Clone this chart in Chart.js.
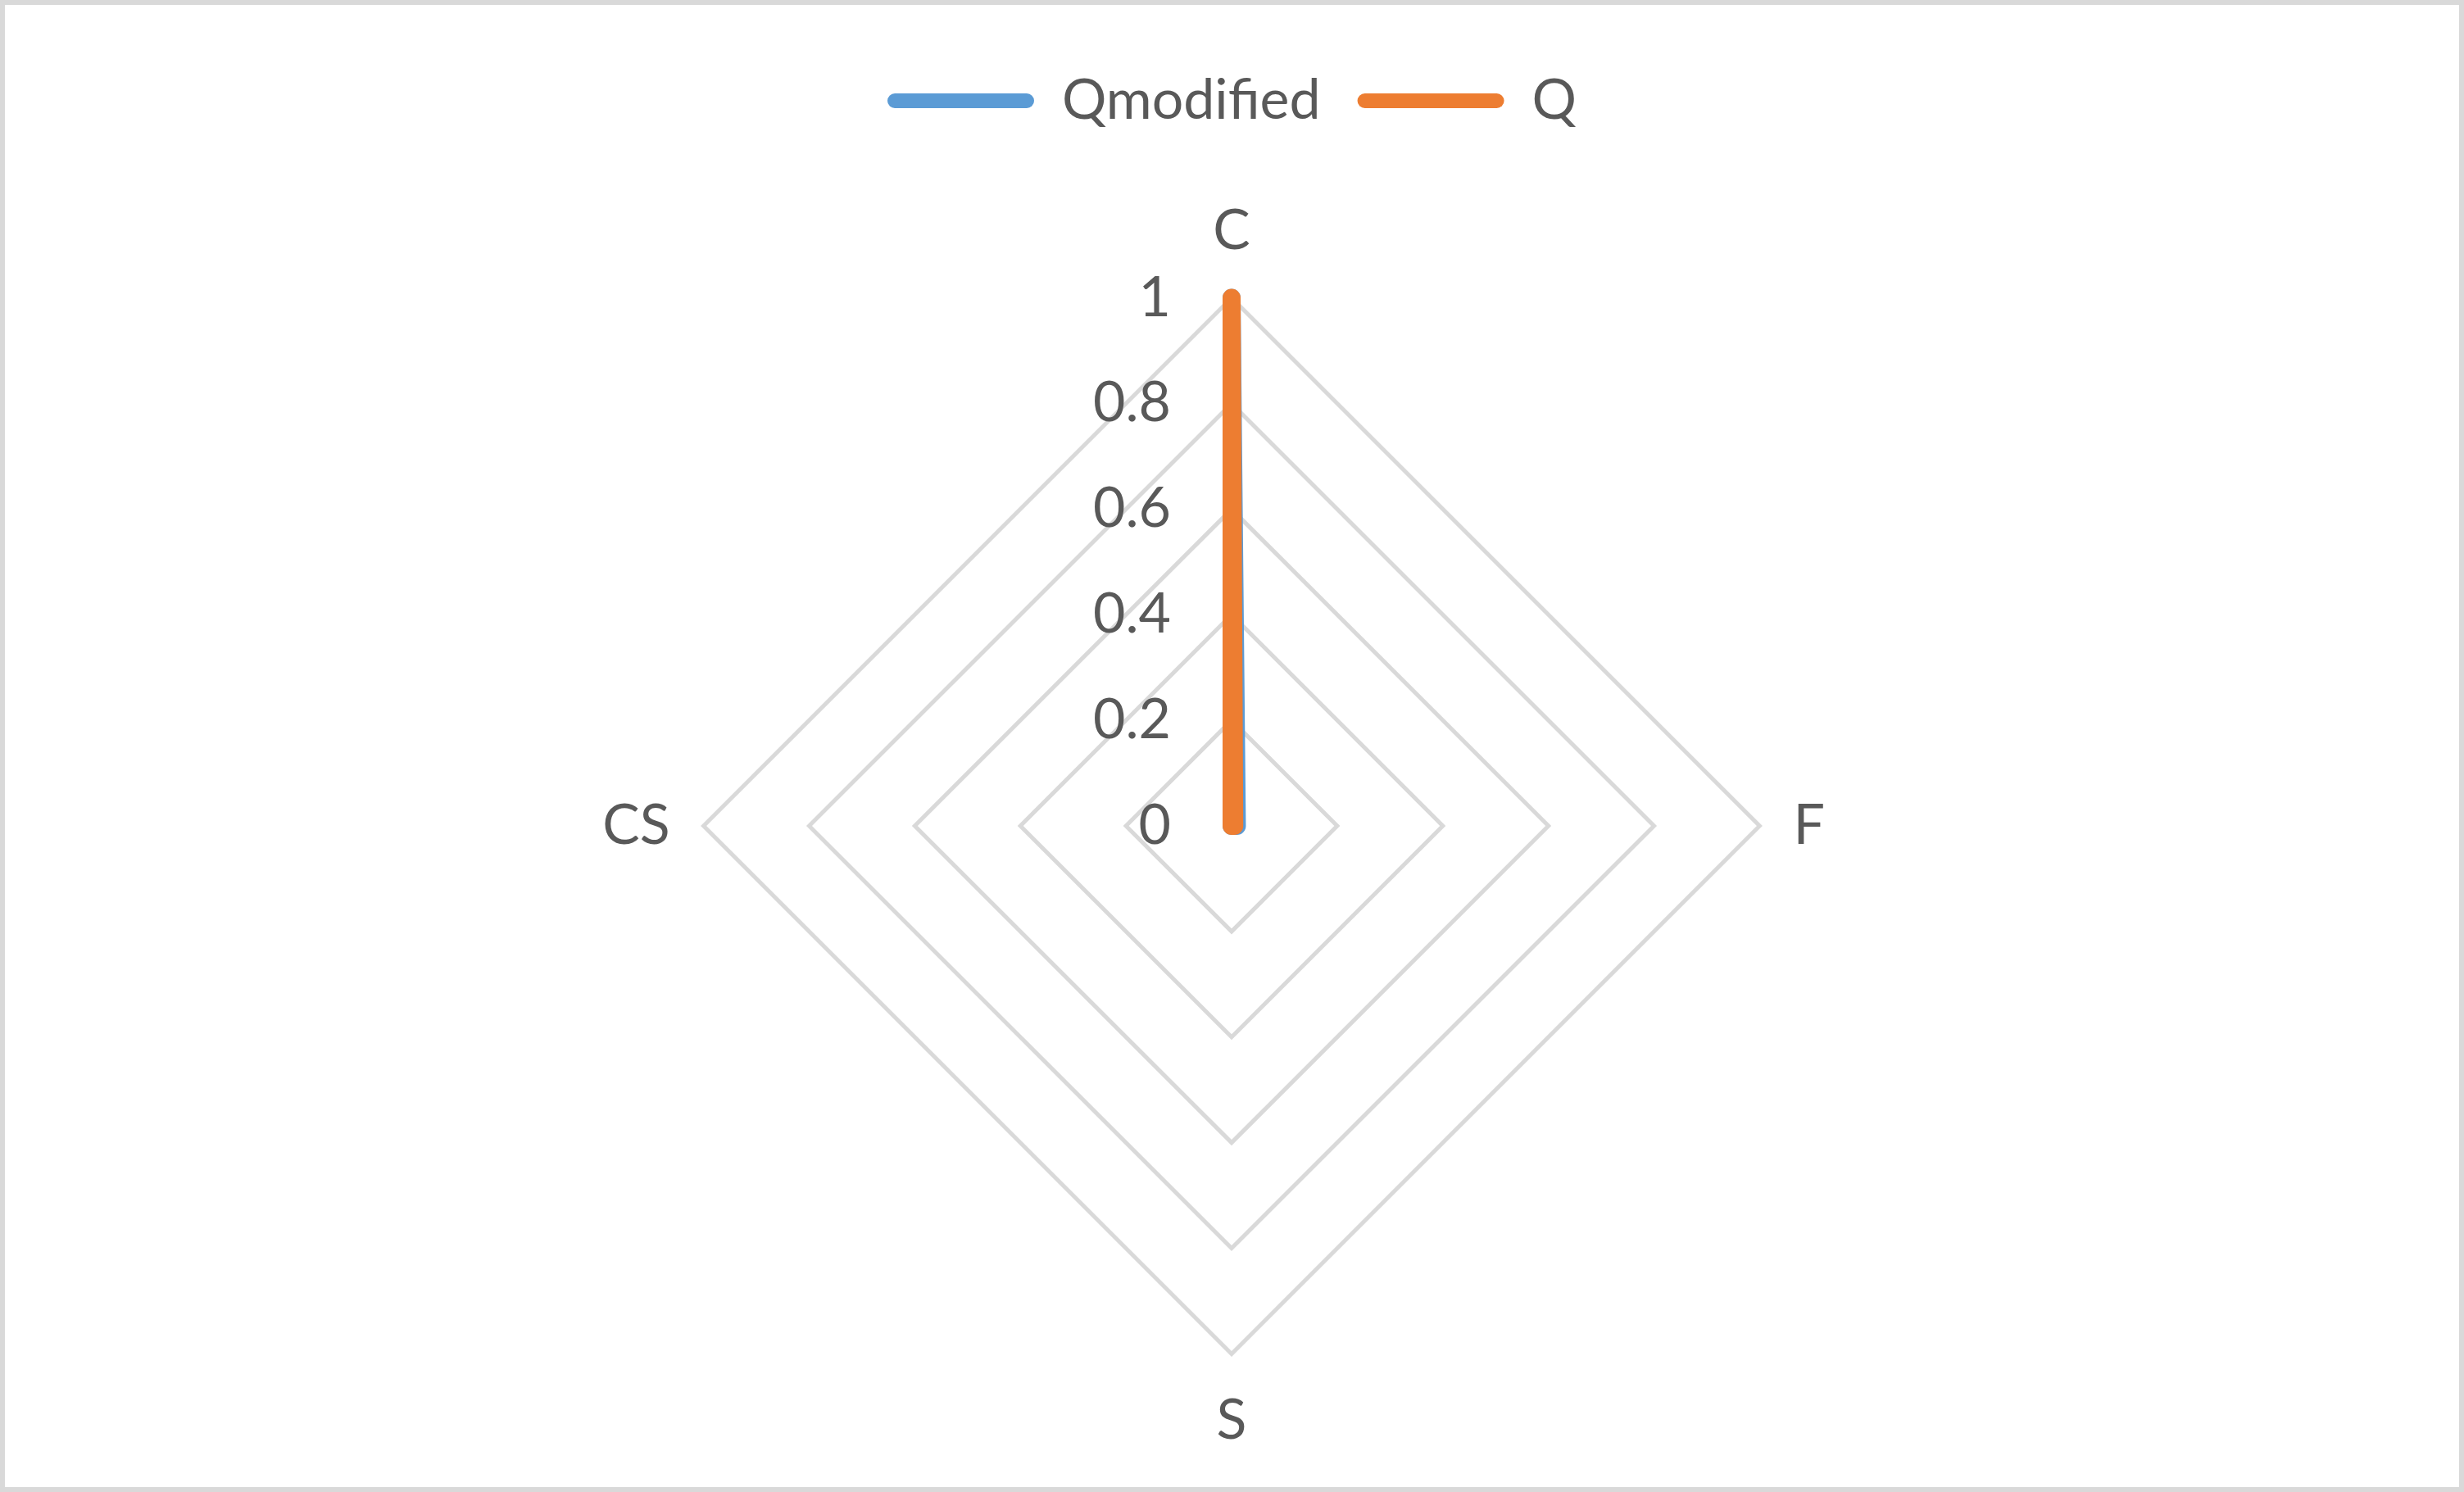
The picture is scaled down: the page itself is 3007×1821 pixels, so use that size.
<!DOCTYPE html>
<html>
<head>
<meta charset="utf-8">
<script src="https://cdn.jsdelivr.net/npm/chart.js@4.4.0/dist/chart.umd.min.js"></script>
<style>
  html, body { margin: 0; padding: 0; background: #fff; }
  #wrap {
    position: absolute; left: 0; top: 0;
    width: 3007px; height: 1821px;
    box-sizing: border-box;
    border: 6px solid #d9d9d9;
    background: #fff;
  }
</style>
</head>
<body>
<div id="wrap"><canvas id="radarChart"></canvas></div>
<script>
// chart data
var categories = ['C', 'F', 'S', 'CS'];
var qModified = [1, 0.01, 0, 0];
var q = [1, 0.005, 0, 0];
var tickValues = [0, 0.2, 0.4, 0.6, 0.8, 1];
var tickLabels = ['0', '0.2', '0.4', '0.6', '0.8', '1'];

var textColor = '#595959';
var fontFamily = 'Lato';

// push the plot down under the legend
const legendGap = {
  id: 'legendGap',
  beforeInit(chart) {
    const oldFit = chart.legend.fit;
    chart.legend.fit = function () {
      oldFit.bind(chart.legend)();
      this.height += 74;
    };
  }
};

// value labels sit left of the vertical axis, like Excel
const sideTicks = {
  id: 'sideTicks',
  afterDatasetsDraw(chart) {
    const scale = chart.scales.r;
    const ctx = chart.ctx;
    ctx.save();
    ctx.font = '68px ' + fontFamily;
    ctx.fillStyle = textColor;
    ctx.textAlign = 'right';
    ctx.textBaseline = 'middle';
    for (let i = 0; i < tickValues.length; i++) {
      let y = scale.yCenter - scale.getDistanceFromCenterForValue(tickValues[i]);
      ctx.fillText(tickLabels[i], scale.xCenter - 74, y);
    }
    ctx.restore();
  }
};

function drawChart() {
  const ctx = document.getElementById('radarChart').getContext('2d');
  new Chart(ctx, {
    type: 'radar',
    data: {
      labels: categories,
      datasets: [{
        label: 'Qmodified',
        data: qModified,
        borderColor: '#5B9BD5',
        backgroundColor: '#5B9BD5',
        borderWidth: 22,
        order: 1
      }, {
        label: 'Q',
        data: q,
        borderColor: '#ED7D31',
        backgroundColor: '#ED7D31',
        borderWidth: 22,
        order: 0
      }]
    },
    options: {
      responsive: true,
      maintainAspectRatio: false,
      animation: false,
      layout: {
        padding: { top: 38, bottom: 40, left: 0, right: 0 }
      },
      elements: {
        line: {
          fill: false,
          tension: 0,
          borderCapStyle: 'round',
          borderJoinStyle: 'round'
        },
        point: { radius: 0, hoverRadius: 0 }
      },
      scales: {
        r: {
          min: 0,
          max: 1,
          ticks: { display: false, stepSize: 0.2 },
          grid: { color: '#d9d9d9', lineWidth: 5 },
          angleLines: { display: false },
          pointLabels: {
            color: textColor,
            padding: 41,
            font: { family: fontFamily, size: 68 }
          }
        }
      },
      plugins: {
        tooltip: { enabled: false },
        legend: {
          position: 'top',
          labels: {
            color: textColor,
            font: { family: fontFamily, size: 68 },
            boxWidth: 179,
            boxHeight: 18,
            padding: 45,
            useBorderRadius: true,
            borderRadius: 9,
            sort: function (a, b) { return a.datasetIndex - b.datasetIndex; },
            generateLabels: function (chart) {
              let items = Chart.defaults.plugins.legend.labels.generateLabels(chart);
              items.forEach(function (it) { it.lineWidth = 0; });
              return items;
            }
          }
        }
      }
    },
    plugins: [legendGap, sideTicks]
  });
}

if (document.fonts && document.fonts.load) {
  document.fonts.load('68px ' + fontFamily).then(drawChart, drawChart);
} else {
  drawChart();
}
</script>
</body>
</html>
